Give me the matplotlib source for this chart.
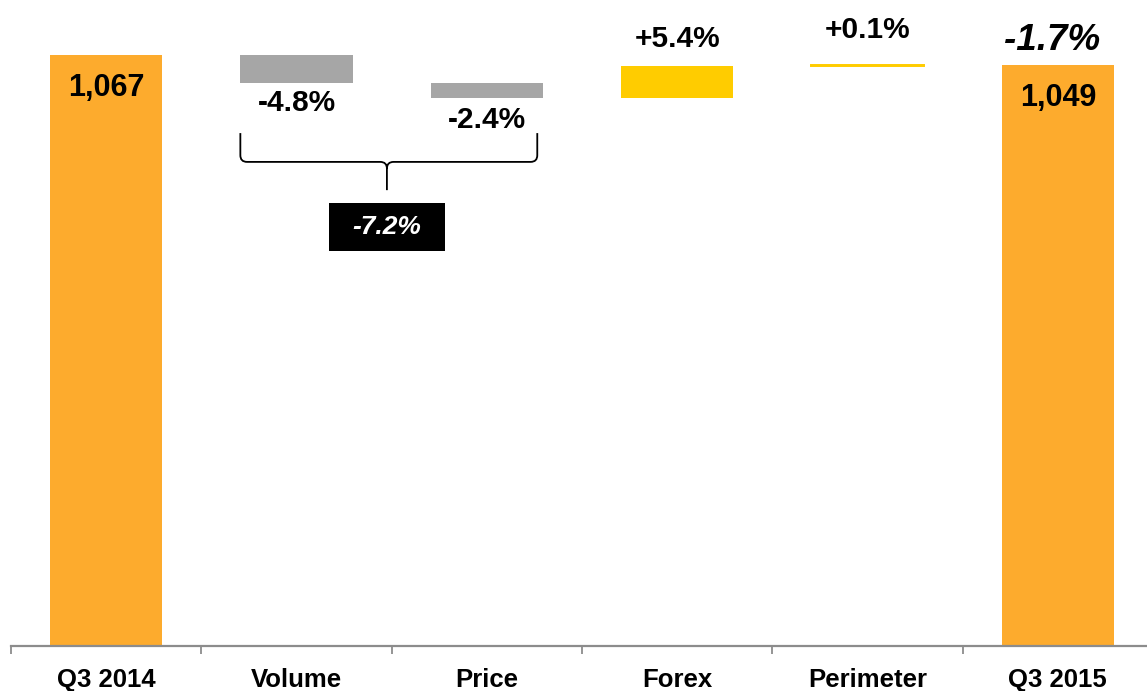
import numpy as np
import matplotlib.pyplot as plt
from matplotlib.patches import Rectangle, PathPatch
from matplotlib.path import Path

plt.rcParams['font.family'] = ['Liberation Sans', 'DejaVu Sans']
plt.rcParams['font.weight'] = 'bold'

categories = ['Q3 2014', 'Volume', 'Price', 'Forex', 'Perimeter', 'Q3 2015']
start_value = 1067
end_value = 1049
step_pct = [-4.8, -2.4, 5.4, 0.1]
step_labels = ['-4.8%', '-2.4%', '+5.4%', '+0.1%']
total_label = '-1.7%'
bracket_label = '-7.2%'

ORANGE = '#FDAB2D'
GREY = '#A6A6A6'
YELLOW = '#FFCC00'
AXIS = '#8C8C8C'

fig = plt.figure(figsize=(11.47, 6.91), dpi=100)
ax = fig.add_axes([11 / 1147, 1 - 646 / 691, 1142 / 1147, 646 / 691])

x = np.arange(len(categories))
w = 0.59

# waterfall steps
deltas = [start_value * p / 100 for p in step_pct]
level = start_value
bottoms, heights, colors = [], [], []
for d in deltas:
    bottoms.append(min(level, level + d))
    heights.append(abs(d))
    colors.append(GREY if d < 0 else YELLOW)
    level += d

ax.bar(x[0], start_value, width=w, color=ORANGE, zorder=2)
ax.bar(x[-1], end_value, width=w, color=ORANGE, zorder=2)
for i in range(len(deltas)):
    lw = 1.4 if heights[i] < 5 else 0
    ax.bar(x[i + 1], heights[i], bottom=bottoms[i], width=w,
           color=colors[i], edgecolor=colors[i], linewidth=lw, zorder=2)

# totals inside the bars
ax.annotate(f'{start_value:,}', (x[0], start_value), xytext=(0, -13),
            textcoords='offset points', ha='center', va='top', fontsize=22)
ax.annotate(f'{end_value:,}', (x[-1], end_value), xytext=(0, -13),
            textcoords='offset points', ha='center', va='top', fontsize=22)

# step labels
offsets = [(-4, 'top'), (-6, 'top'), (9, 'bottom'), (15, 'bottom')]
for i, lab in enumerate(step_labels):
    off, va = offsets[i]
    y = bottoms[i] if va == 'top' else bottoms[i] + heights[i]
    ax.annotate(lab, (x[i + 1], y), xytext=(0, off), textcoords='offset points',
                ha='center', va=va, fontsize=21.5)

ax.annotate(total_label, (x[-1], end_value), xytext=(-4, 5),
            textcoords='offset points', ha='center', va='bottom',
            fontsize=26.5, style='italic')

# brace grouping volume and price
bl = x[1] - w / 2
br = x[2] + w / 2 - 0.03
bc = 1.475
y_top, y_mid, y_tip = 926, 874, 823
rx, ry = 0.035, 12
verts = [
    (bl, y_top), (bl, y_mid + ry), (bl, y_mid), (bl + rx, y_mid),
    (bc - rx, y_mid), (bc, y_mid), (bc, y_mid - ry), (bc, y_tip),
    (bc, y_mid - ry), (bc, y_mid), (bc + rx, y_mid),
    (br - rx, y_mid), (br, y_mid), (br, y_mid + ry), (br, y_top),
]
codes = [
    Path.MOVETO, Path.LINETO, Path.CURVE3, Path.CURVE3,
    Path.LINETO, Path.CURVE3, Path.CURVE3, Path.LINETO,
    Path.MOVETO, Path.CURVE3, Path.CURVE3,
    Path.LINETO, Path.CURVE3, Path.CURVE3, Path.LINETO,
]
ax.add_patch(PathPatch(Path(verts, codes), fill=False, edgecolor='black',
                       linewidth=1.3, zorder=3))

box_w, box_h = 0.61, 87
ax.add_patch(Rectangle((bc - box_w / 2, 713), box_w, box_h,
                       facecolor='black', edgecolor='none', zorder=3))
ax.text(bc, 713 + box_h / 2, bracket_label, color='white', ha='center',
        va='center', fontsize=19, style='italic', zorder=4)

# axes styling
ax.set_xlim(-0.5, len(categories) - 0.5)
ax.set_ylim(0, 646 / (591 / 1067))
for side in ['left', 'right', 'top']:
    ax.spines[side].set_visible(False)
ax.spines['bottom'].set_color(AXIS)
ax.spines['bottom'].set_linewidth(1.6)
ax.set_yticks([])
ax.set_xticks(x)
ax.set_xticklabels(categories, fontsize=18.5)
ax.set_xticks(np.arange(len(categories) + 1) - 0.5, minor=True)
ax.tick_params(axis='x', which='major', length=0, pad=16)
ax.tick_params(axis='x', which='minor', length=6, width=1.3, color=AXIS)

fig.savefig('out.png', dpi=100)
